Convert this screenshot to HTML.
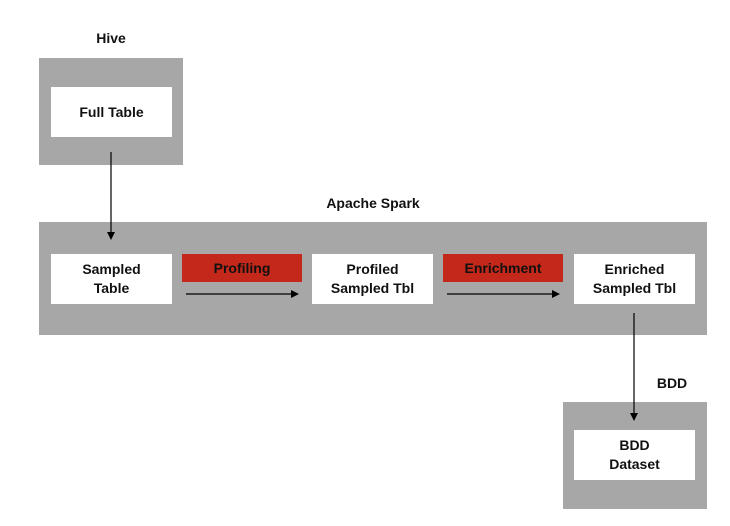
<!DOCTYPE html>
<html><head><style>
body{margin:0;width:730px;height:526px;background:#fff;position:relative;overflow:hidden;font-family:"Liberation Sans",Arial,sans-serif;font-weight:bold;color:#111}
.a{position:absolute}
.g{background:#a6a7a6}
.w{background:#fff;display:flex;align-items:center;justify-content:center;text-align:center;font-size:14px;line-height:19px}
.r{background:#c3281a;display:flex;align-items:center;justify-content:center;font-size:14px}
.t{font-size:14px;transform:translateX(-50%)}
</style></head><body>
<div class="a t" style="left:111px;top:30px">Hive</div>
<div class="a g" style="left:39px;top:58px;width:144px;height:107px"></div>
<div class="a w" style="left:51px;top:87px;width:121px;height:50px">Full Table</div>
<div class="a t" style="left:373px;top:195px">Apache Spark</div>
<div class="a g" style="left:39px;top:222px;width:668px;height:113px"></div>
<div class="a w" style="left:51px;top:254px;width:121px;height:50px">Sampled<br>Table</div>
<div class="a r" style="left:182px;top:254px;width:120px;height:28px">Profiling</div>
<div class="a w" style="left:312px;top:254px;width:121px;height:50px">Profiled<br>Sampled Tbl</div>
<div class="a r" style="left:443px;top:254px;width:120px;height:28px">Enrichment</div>
<div class="a w" style="left:574px;top:254px;width:121px;height:50px">Enriched<br>Sampled Tbl</div>
<div class="a t" style="left:672px;top:375px">BDD</div>
<div class="a g" style="left:563px;top:402px;width:144px;height:107px"></div>
<div class="a w" style="left:574px;top:430px;width:121px;height:50px">BDD<br>Dataset</div>
<svg class="a" style="left:0;top:0" width="730" height="526">
<g stroke="#000" stroke-width="1.2" fill="#000">
<line x1="111" y1="152" x2="111" y2="233"/><polygon points="107,232 115,232 111,240" stroke="none"/>
<line x1="186" y1="294" x2="292" y2="294"/><polygon points="291,290 291,298 299,294" stroke="none"/>
<line x1="447" y1="294" x2="553" y2="294"/><polygon points="552,290 552,298 560,294" stroke="none"/>
<line x1="634" y1="313" x2="634" y2="414"/><polygon points="630,413 638,413 634,421" stroke="none"/>
</g></svg>
</body></html>
